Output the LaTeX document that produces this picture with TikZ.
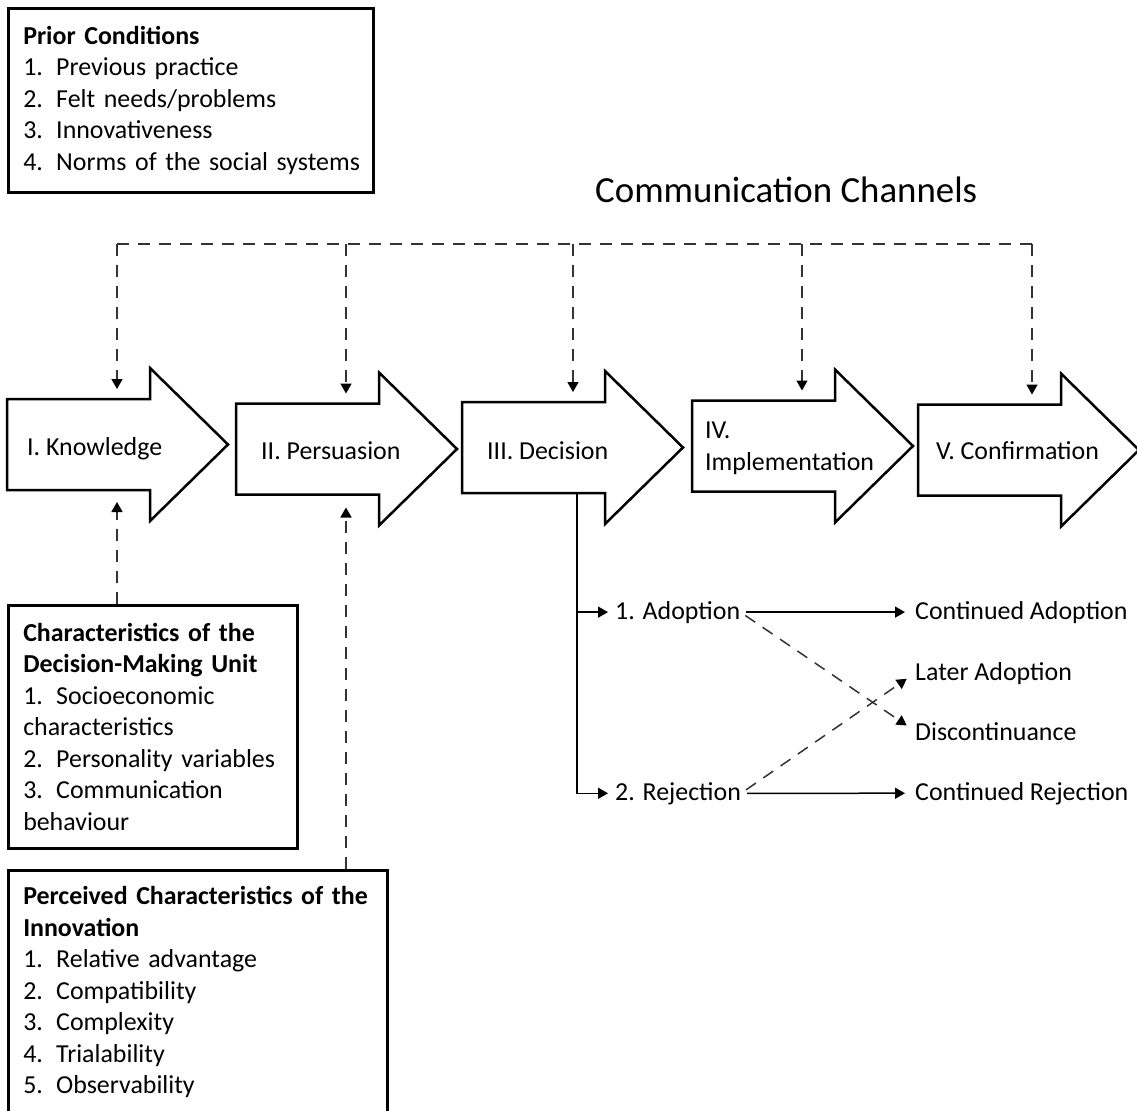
\documentclass[tikz,border=0pt]{standalone}
\usepackage{fontspec}
\setmainfont{Carlito}
\usetikzlibrary{arrows.meta}

% Stufenpfeil: Name, linke Kante, Mitte
\newcommand{\stufe}[3]{%
	\draw[stufe] (#2,#3-45.5) -- (#2+143,#3-45.5) -- (#2+143,#3-76.5) -- (#2+221,#3)
		-- (#2+143,#3+76.5) -- (#2+143,#3+45.5) -- (#2,#3+45.5) -- cycle;
	\coordinate (#1-o) at (#2+110,#3-45.5);
	\coordinate (#1-u) at (#2+110,#3+45.5);
}
\newcommand{\punkt}[2]{\makebox[33bp][l]{#1}\mbox{#2}}

\begin{document}
\begin{tikzpicture}[x=1bp, y=-1bp,
	stufe/.style={draw, line width=2.5bp, fill=white},
	kasten/.style={draw, line width=2.5bp, anchor=north west, align=left, inner xsep=15bp, inner ysep=16bp, font=\fontsize{26}{31.7}\selectfont},
	txt/.style={anchor=base west, inner sep=0pt, font=\fontsize{26}{31.7}\selectfont},
	kanal/.style={black!80, line width=1.5bp, dash pattern=on 12bp off 9bp},
	ast/.style={line width=1.5bp},
	pfeil/.style={-{Triangle[length=10bp,width=11bp,color=black]}}]
\useasboundingbox (0,0) rectangle (1137,1111);

% Vorbedingungen
\node[kasten, text width=335bp, minimum height=184bp] (prior) at (7,7) {\textbf{Prior Conditions}\\
	\punkt{1.}{Previous practice}\\
	\punkt{2.}{Felt needs/problems}\\
	\punkt{3.}{Innovativeness}\\
	\punkt{4.}{Norms of the social systems}};

% Kommunikationskanaele
\node[txt, font=\fontsize{37}{44}\selectfont] (kanaele) at (595,202) {Communication Channels};

% Stufen zeichnen
\stufe{know}{7}{444.5}
\stufe{pers}{236}{449}
\stufe{dec}{462}{447.5}
\stufe{impl}{692}{446}
\stufe{conf}{918}{450}
\node[txt] (knowledge) at (27,455) {I. Knowledge};
\node[txt] (persuasion) at (261,459) {II. Persuasion};
\node[txt] (decision) at (487,459) {III. Decision};
\node[txt, anchor=west, align=left] (implementation) at (705,448) {IV.\\Implementation};
\node[txt] (confirmation) at (936,459) {V. Confirmation};

% Kanaele zu den Stufen
\coordinate (k1) at (117,244);
\coordinate (k2) at (346,244);
\coordinate (k3) at (573,244);
\coordinate (k4) at (802,244);
\coordinate (k5) at (1032,244);
\draw[kanal] (k1) -- (k5);
\foreach \i/\s in {1/know, 2/pers, 3/dec, 4/impl, 5/conf}
	\draw[kanal, pfeil, shorten >=10bp] (k\i) -- (k\i |- \s-o);

% Merkmale
\node[kasten, text width=259bp, minimum height=243bp] (dmu) at (7,604) {\textbf{Characteristics of the}\\
	\textbf{Decision-Making Unit}\\
	\punkt{1.}{Socioeconomic}\\
	characteristics\\
	\punkt{2.}{Personality variables}\\
	\punkt{3.}{Communication}\\
	behaviour};
\node[kasten, text width=349bp] (innov) at (7,869) {\textbf{\mbox{Perceived Characteristics of the}}\\
	\textbf{Innovation}\\
	\punkt{1.}{Relative advantage}\\
	\punkt{2.}{Compatibility}\\
	\punkt{3.}{Complexity}\\
	\punkt{4.}{Trialability}\\
	\punkt{5.}{Observability}};
\draw[kanal, pfeil, shorten >=12bp] (dmu.north -| k1) -- (k1 |- know-u);
\draw[kanal, pfeil, shorten >=13bp] (innov.north -| k2) -- (k2 |- pers-u);

% Entscheidung: Annahme / Ablehnung
\coordinate (abzweig) at (577,493);
\node[txt] (adoption) at (615,619) {1. Adoption};
\node[txt] (rejection) at (615,800) {2. Rejection};
\node[txt] (contadopt) at (915,619) {Continued Adoption};
\node[txt] (later) at (915,680) {Later Adoption};
\node[txt] (discont) at (915,740) {Discontinuance};
\node[txt] (contreject) at (915,800) {Continued Rejection};
\draw[ast, pfeil, shorten >=7bp] (abzweig) |- (adoption.west);
\draw[ast, pfeil, shorten >=7bp] (abzweig) |- (rejection.west);
\draw[ast, pfeil, shorten <=6bp, shorten >=10bp] (adoption.east) -- (contadopt.west);
\draw[ast, pfeil, shorten <=6bp, shorten >=10bp] (rejection.east) -- (contreject.west);
\draw[kanal, pfeil, shorten <=6bp, shorten >=10bp] (adoption.east) -- (discont.west);
\draw[kanal, pfeil, shorten <=6bp, shorten >=10bp] (rejection.east) -- (later.west);
\end{tikzpicture}
\end{document}
